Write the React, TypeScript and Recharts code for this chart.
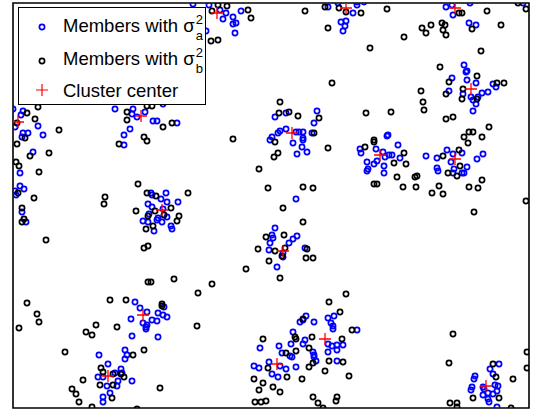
import { ScatterChart, Scatter, XAxis, YAxis, ReferenceArea, Legend } from 'recharts';

const membersA: [number, number][] = [
    [193, 4], [209, 5], [220, 10], [226, 13], [233, 17], [241, 11], [223, 19], [233, 24], [236, 23], [235, 33], [206, 31], [163, 104],
    [13, 109], [23, 111], [21, 115], [15, 127], [38, 126], [43, 135], [23, 133], [28, 133], [22, 137],
    [115, 109], [133, 109], [132, 114], [145, 112], [137, 117], [130, 129], [124, 135], [153, 121], [157, 121], [177, 123],
    [328, 7], [338, 3], [353, 13], [357, 2], [357, 5], [364, 2], [341, 22], [346, 21], [345, 26], [343, 31],
    [446, 7], [452, 5], [453, 15], [470, 3], [469, 23], [476, 25], [523, 3],
    [464, 65], [466, 72], [467, 71], [452, 78], [467, 80], [476, 83], [493, 84], [496, 87], [463, 94], [449, 91], [488, 92], [482, 93],
    [478, 97], [471, 97], [473, 100], [476, 104], [473, 111],
    [275, 117], [286, 113], [317, 111], [314, 123], [286, 129], [278, 133], [280, 131], [272, 137], [296, 132], [299, 132], [303, 132],
    [312, 133], [303, 138], [387, 136], [388, 135],
    [33, 152], [20, 173], [20, 186], [24, 189], [15, 191], [16, 195], [22, 212], [26, 222], [124, 145],
    [151, 193], [152, 195], [166, 193], [161, 199], [167, 202], [178, 202], [148, 204], [152, 207], [163, 209], [149, 214], [167, 217],
    [143, 221], [148, 222], [157, 220], [158, 218], [162, 222], [154, 231], [171, 226], [172, 229], [269, 250],
    [270, 140], [293, 143], [302, 147], [303, 140], [307, 152], [297, 154],
    [360, 149], [361, 153], [376, 149], [383, 152], [389, 155], [392, 155], [385, 157], [398, 145], [400, 158], [377, 161], [367, 162],
    [374, 164], [384, 166], [367, 171], [368, 169], [384, 173],
    [426, 156], [437, 158], [447, 150], [453, 154], [462, 153], [451, 162], [467, 167], [437, 168], [438, 171], [454, 169], [453, 173],
    [462, 173], [464, 173], [477, 159], [483, 154],
    [296, 199], [275, 228], [272, 235], [273, 238], [270, 243], [297, 236], [293, 239], [289, 243], [283, 253], [283, 257], [277, 267], [305, 248],
    [135, 302], [140, 308], [164, 307], [147, 312], [158, 313], [163, 315], [167, 317], [131, 319], [143, 323], [147, 325], [146, 329],
    [152, 320], [157, 321], [146, 327], [132, 336], [158, 337], [125, 350], [127, 355], [125, 359], [99, 355], [108, 364], [115, 373],
    [121, 369], [122, 373], [98, 377], [103, 377], [132, 381], [118, 381], [107, 386], [117, 386], [110, 393], [103, 397], [103, 402],
    [260, 348], [254, 366], [259, 368], [269, 362],
    [334, 316], [328, 318], [331, 323], [333, 326], [333, 329], [306, 316], [303, 320], [300, 322], [314, 322], [357, 330], [293, 332],
    [305, 340], [303, 344], [291, 344], [328, 344], [332, 346], [337, 345], [343, 345], [279, 346], [337, 350], [328, 352], [313, 352],
    [314, 355], [314, 357], [282, 353], [290, 356], [292, 357], [337, 361], [316, 361], [280, 366], [286, 369], [296, 367], [272, 374], [278, 377],
    [499, 364], [490, 369], [493, 374], [475, 376], [474, 379], [472, 387], [471, 390], [483, 387], [484, 389], [483, 395], [488, 393],
    [488, 399], [489, 402], [495, 385], [498, 386], [497, 391], [493, 394], [497, 407],
];

const membersB: [number, number][] = [
    [218, 5], [227, 6], [212, 11], [248, 10], [251, 18], [211, 41], [218, 40], [27, 113], [38, 107], [17, 123], [35, 119], [59, 130],
    [25, 138], [127, 112], [147, 106], [152, 106], [127, 120], [172, 123], [163, 127], [144, 137], [233, 139],
    [305, 11], [325, 7], [339, 8], [346, 12], [361, 13], [328, 28], [387, 9], [422, 28], [426, 33], [431, 25], [442, 23], [445, 25],
    [443, 30], [446, 35], [404, 37], [459, 13], [462, 13], [487, 11], [472, 29], [501, 25], [518, 3], [526, 9], [370, 48], [481, 51],
    [440, 67], [477, 76], [449, 82], [497, 83], [504, 83], [463, 89], [446, 94], [421, 91], [462, 99], [477, 99], [423, 102], [424, 110],
    [446, 119], [453, 117], [332, 83], [280, 102], [279, 113], [289, 112], [298, 116], [319, 118], [366, 113], [391, 112], [314, 133],
    [374, 140], [464, 137], [469, 132], [473, 132], [489, 127], [482, 137],
    [17, 144], [30, 156], [49, 153], [16, 162], [19, 166], [39, 172], [18, 193], [34, 198], [22, 208], [24, 219], [22, 222], [46, 240],
    [119, 144], [147, 141], [138, 184], [147, 193], [156, 196], [188, 193], [155, 211], [171, 208], [136, 211], [148, 216], [164, 215],
    [179, 216], [177, 221], [153, 226], [146, 229], [144, 248], [148, 246], [105, 197], [104, 204], [259, 169], [268, 188], [266, 237],
    [258, 249], [269, 261], [246, 269],
    [275, 142], [278, 153], [274, 157], [328, 148], [303, 187], [313, 188], [283, 208], [303, 222], [374, 142], [365, 147], [404, 153],
    [394, 163], [406, 164], [397, 177], [415, 177], [417, 176], [374, 184], [377, 184], [403, 187], [416, 187], [432, 193], [443, 194],
    [439, 186], [443, 156], [459, 150], [460, 166], [448, 173], [457, 176], [468, 143], [482, 180], [469, 187], [478, 188], [474, 212],
    [526, 201], [284, 235], [285, 248], [282, 256], [275, 251], [307, 249], [306, 258], [313, 258],
    [148, 282], [151, 282], [174, 279], [212, 284], [198, 293], [27, 303], [37, 314], [39, 322], [19, 328], [110, 300], [126, 300],
    [162, 304], [162, 306], [197, 326], [117, 327], [96, 325], [86, 332], [92, 335], [65, 352], [144, 350], [133, 355], [101, 368],
    [103, 372], [113, 374], [121, 374], [124, 377], [83, 380], [100, 385], [113, 385], [72, 389], [76, 394], [79, 402], [112, 398],
    [92, 407], [137, 409], [160, 388], [263, 339], [268, 368], [254, 379], [263, 383], [259, 390], [255, 402], [261, 402], [266, 401],
    [280, 278], [346, 294], [329, 302], [340, 312], [303, 319], [352, 330], [295, 337], [296, 339], [312, 337], [342, 339], [309, 348],
    [296, 351], [286, 353], [329, 361], [343, 362], [313, 363], [309, 367], [325, 371], [287, 377], [302, 379], [349, 376], [273, 387],
    [280, 392], [313, 397], [318, 403], [323, 408], [337, 397], [336, 401], [453, 334], [449, 363], [450, 403], [457, 403], [457, 407],
    [493, 364], [496, 377], [473, 398], [499, 398], [511, 408], [513, 379], [527, 352], [527, 368],
];

const centers: [number, number][] = [
    [217, 13], [346, 8], [455, 8], [18, 122], [141, 116], [292, 133], [471, 89], [380, 155],
    [455, 159], [162, 210], [283, 251], [143, 315], [108, 376], [325, 339], [277, 364], [486, 386],
];

const toPoints = (list: [number, number][]) => list.map(([x, y]) => ({ x, y }));

const font = '"Liberation Sans", Arial, Helvetica, sans-serif';

const Ring = (color: string) => (props: any) => (
    <circle cx={props.cx} cy={props.cy} r={2.6} fill="none" stroke={color} strokeWidth={1.7} />
);

const Plus = (props: any) => (
    <path d={`M${props.cx - 6},${props.cy}H${props.cx + 6}M${props.cx},${props.cy - 6}V${props.cy + 6}`} stroke="#ff0000" strokeWidth={1.3} fill="none" />
);

const Sigma = ({ sub }: { sub: string }) => (
    <>
        σ
        <span style={{ position: 'relative', display: 'inline-block', width: 10 }}>
            <span style={{ position: 'absolute', left: 1, top: -19, fontSize: 13, lineHeight: '13px' }}>2</span>
            <span style={{ position: 'absolute', left: 1, top: -3, fontSize: 13, lineHeight: '13px' }}>{sub}</span>
        </span>
    </>
);

const LegendBox = () => {
    const text = { position: 'absolute' as const, left: 44, fontFamily: font, fontSize: 18.5, lineHeight: '19px', whiteSpace: 'nowrap' as const, color: '#000' };
    return (
        <div style={{ position: 'relative', width: 188, height: 98, boxSizing: 'border-box', border: '1px solid #000', background: '#fff' }}>
            <svg width={188} height={98} style={{ position: 'absolute', left: -1, top: -1 }}>
                <circle cx={24} cy={20} r={2.6} fill="none" stroke="#0000ff" strokeWidth={1.7} />
                <circle cx={24} cy={54} r={2.6} fill="none" stroke="#000" strokeWidth={1.7} />
                <path d="M18,83H30M24,77V89" stroke="#ff0000" strokeWidth={1.2} />
            </svg>
            <div style={{ ...text, top: 8 }}>Members with <Sigma sub="a" /></div>
            <div style={{ ...text, top: 41 }}>Members with <Sigma sub="b" /></div>
            <div style={{ ...text, top: 73 }}>Cluster center</div>
        </div>
    );
};

export default function App() {
    return (
        <div style={{ position: 'absolute', left: 0, top: 0, width: 534, height: 418, background: '#fff' }}>
            <ScatterChart width={534} height={418} margin={{ top: 3, right: 5, bottom: 10, left: 13 }}>
                <XAxis type="number" dataKey="x" domain={[13, 529]} allowDataOverflow hide />
                <YAxis type="number" dataKey="y" domain={[3, 408]} reversed allowDataOverflow hide />
                <ReferenceArea x1={13} x2={529} y1={3} y2={408} fill="none" fillOpacity={0} stroke="#000" strokeWidth={1.6} ifOverflow="visible" />
                <Scatter name="Members with σa" data={toPoints(membersA)} shape={Ring('#0000ff')} isAnimationActive={false} />
                <Scatter name="Members with σb" data={toPoints(membersB)} shape={Ring('#000000')} isAnimationActive={false} />
                <Scatter name="Cluster center" data={toPoints(centers)} shape={Plus} isAnimationActive={false} />
                <Legend
                    layout="horizontal"
                    align="center"
                    verticalAlign="middle"
                    wrapperStyle={{ left: 18, top: 7, width: 188, height: 98 }}
                    content={() => <LegendBox />}
                />
            </ScatterChart>
        </div>
    );
}
